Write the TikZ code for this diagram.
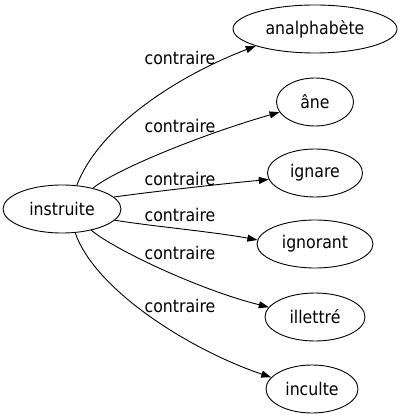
\documentclass[tikz,border=0pt]{standalone}
\usepackage{fontspec}
\setmainfont{DejaVu Sans Condensed}
\usetikzlibrary{shapes.geometric,arrows.meta}
\begin{document}
\begin{tikzpicture}[x=1pt,y=-1pt,
  word/.style={ellipse,draw,line width=0.9pt,inner sep=0pt,minimum height=48pt,font=\fontsize{17.5}{20}\selectfont},
  lbl/.style={inner sep=0pt,font=\fontsize{17.5}{20}\selectfont},
  edge/.style={line width=0.9pt,-{Triangle[length=10pt,width=7pt]}}]
\useasboundingbox (0,0) rectangle (401,419);
\node[word,minimum width=118pt] (instruite) at (62,209) {instruite};
\node[word,minimum width=164pt] (analphabete) at (315,29) {analphabète};
\node[word,minimum width=77pt] (ane) at (315,102) {âne};
\node[word,minimum width=95pt] (ignare) at (315,173) {ignare};
\node[word,minimum width=116pt] (ignorant) at (315,244) {ignorant};
\node[word,minimum width=100pt] (illettre) at (315,317) {illettré};
\node[word,minimum width=92pt] (inculte) at (312,389) {inculte};
\node[lbl] (l1) at (180,58) {contraire};
\node[lbl] (l2) at (180,126) {contraire};
\node[lbl] (l3) at (180,179) {contraire};
\node[lbl] (l4) at (180,215) {contraire};
\node[lbl] (l5) at (180,253) {contraire};
\node[lbl] (l6) at (180,306) {contraire};
\draw[edge] (instruite.58.7) .. controls (100,125) and (180,75) .. (analphabete.196.9);
\draw[edge] (instruite.34.1) .. controls (115,170) and (200,135) .. (ane.196.1);
\draw[edge] (instruite.13.5) .. controls (150,192) and (220,184) .. (ignare.188.3);
\draw[edge] (instruite.-12.2) .. controls (150,226) and (215,232) .. (ignorant.176);
\draw[edge] (instruite.-36.9) .. controls (115,250) and (200,290) .. (illettre.168);
\draw[edge] (instruite.-61.6) .. controls (95,290) and (190,350) .. (inculte.164);
\end{tikzpicture}
\end{document}
